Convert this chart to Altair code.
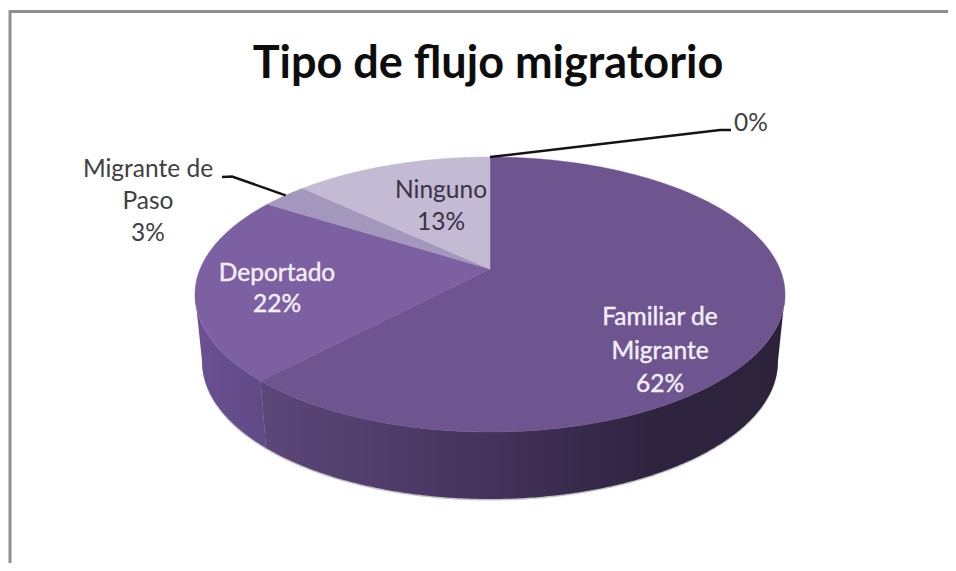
import math
import altair as alt
import pandas as pd

# ---- chart values ----
categories = ["Familiar de Migrante", "Deportado", "Migrante de Paso", "Ninguno", "Otro"]
percents = [62, 22, 3, 13, 0]
label_texts = ["Familiar de\nMigrante\n62%", "Deportado\n22%", "Migrante de\nPaso\n3%", "Ninguno\n13%", "0%"]
top_colors = ["#6e5590", "#7d60a1", "#a497bd", "#c2bbd3", "#c2bbd3"]
title_text = "Tipo de flujo migratorio"

# ---- layout ----
W, H = 940, 555
OFF = 8
CX, CY = 490, 294      # page position of the ellipse centre
RX, K = 295.0, 0.1855  # half width, perspective factor
A, B = 137.4, 25.0     # vertical projection terms
C = RX * math.sqrt(1 - K * K)
WALL_DROP, WALL_SCALE = 67.0, 0.976


def project(deg, scale=1.0, drop=0.0):
    t = math.radians(deg)
    u, v = math.sin(t), math.cos(t)
    d = 1 + K * v
    return [scale * C * u / d, (A * v + B) / d - drop]


def arc(d1, d2, scale=1.0, drop=0.0):
    n = max(2, int(abs(d2 - d1) * 2))
    return [project(d1 + (d2 - d1) * i / n, scale, drop) for i in range(n + 1)]


def apex():
    return [0.0, B]


def feature(kind, coords):
    return {"type": "Feature", "properties": {}, "geometry": {"type": kind, "coordinates": coords}}


def shape(feat, **mark):
    return (
        alt.Chart(alt.Data(values=[feat]))
        .mark_geoshape(**mark)
        .project(type="identity", scale=1, translate=[CX - OFF, CY - OFF], reflectY=True)
    )


def wall(d1, d2):
    ring = arc(d1, d2) + arc(d2, d1, WALL_SCALE, WALL_DROP)
    ring.append(ring[0])
    return feature("Polygon", [ring])


def page(x, y):
    return [x - CX, CY - y]


cum = [0]
for p in percents:
    cum.append(cum[-1] + p)
ang = [c / 100 * 360 for c in cum]

right_ext = math.degrees(math.acos(-K))
left_ext = 360 - right_ext
split = ang[1]

layers = []

# frame of the picture
frame = "#8f8f8f"
layers.append(alt.Chart(pd.DataFrame({"a": [0]})).mark_rule(color=frame, strokeWidth=3).encode(
    x=alt.value(2), y=alt.value(2), y2=alt.value(H)))
layers.append(alt.Chart(pd.DataFrame({"a": [0]})).mark_rule(color=frame, strokeWidth=3).encode(
    x=alt.value(1), x2=alt.value(W), y=alt.value(3.5)))

# soft shadow under the wall
shadow = arc(right_ext, left_ext, WALL_SCALE, WALL_DROP + 1.5)
shadow = shadow + [shadow[0]]
layers.append(shape(feature("Polygon", [shadow]), fill="#8a8590", opacity=0.5, strokeWidth=0))

# side walls
wall_main = alt.Gradient(gradient="linear", x1=0, x2=1, y1=0, y2=0, stops=[
    alt.GradientStop(color="#5c4779", offset=0),
    alt.GradientStop(color="#4f3c69", offset=0.25),
    alt.GradientStop(color="#3f2f55", offset=0.5),
    alt.GradientStop(color="#2e2440", offset=0.75),
    alt.GradientStop(color="#2c2238", offset=1),
])
wall_side = alt.Gradient(gradient="linear", x1=0, x2=1, y1=0, y2=0, stops=[
    alt.GradientStop(color="#6b5093", offset=0),
    alt.GradientStop(color="#604a85", offset=1),
])
layers.append(shape(wall(split, left_ext), fill=wall_side, strokeWidth=0))
layers.append(shape(wall(right_ext, split), fill=wall_main, strokeWidth=0))

# top faces
for i, pct in enumerate(percents):
    if pct <= 0:
        continue
    ring = [apex()] + arc(ang[i], ang[i + 1]) + [apex()]
    layers.append(shape(feature("Polygon", [ring]), fill=top_colors[i], stroke=top_colors[i], strokeWidth=0.5))

# leader lines
leader = "#15121a"
layers.append(shape(feature("LineString", [project(0), page(720, 130), page(731, 130)]),
                    filled=False, stroke=leader, strokeWidth=2.5))
layers.append(shape(feature("LineString", [page(222, 177), page(232, 176.5), project(ang[3] - 5)]),
                    filled=False, stroke=leader, strokeWidth=2.5))


def text(label, x, y, lh, color, **kw):
    return alt.Chart(pd.DataFrame({"t": [label]})).mark_text(
        font="Lato", fontSize=24.5, lineHeight=lh, lineBreak="\n", color=color,
        align="center", baseline="middle", **kw
    ).encode(x=alt.value(x - OFF), y=alt.value(y - OFF), text="t")


layers.append(text(label_texts[0], 660, 318, 33.5, "#f3eff7", stroke="#f3eff7", strokeWidth=0.4))
layers.append(text(label_texts[1], 277, 274, 31, "#f3eff7", stroke="#f3eff7", strokeWidth=0.4))
layers.append(text(label_texts[3], 441, 191, 32, "#3b3248"))
layers.append(text(label_texts[2], 148, 170, 32, "#404040"))
layers.append(text(label_texts[4], 751, 124, 32, "#404040"))
layers.append(alt.Chart(pd.DataFrame({"t": [title_text]})).mark_text(
    font="Lato", fontSize=45, fontWeight="bold", color="#0d0d0d", align="center", baseline="middle"
).encode(x=alt.value(488 - OFF), y=alt.value(64 - OFF), text="t"))

chart = (
    alt.layer(*layers)
    .properties(width=W, height=H, padding=0, background="white", autosize=alt.AutoSizeParams(type="none"))
    .configure_view(stroke=None)
)
chart.save("out.html", embed_options={"renderer": "svg", "actions": False})
